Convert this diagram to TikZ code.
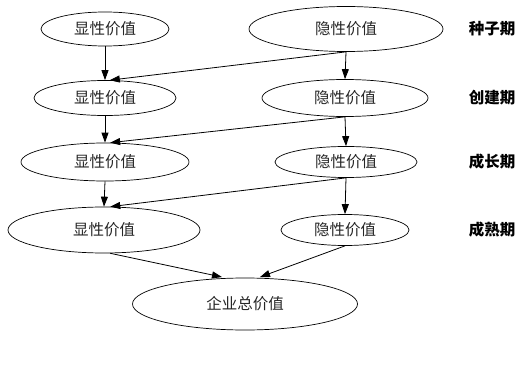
\documentclass[tikz,border=0pt]{standalone}
\usepackage{fontspec}
\usetikzlibrary{shapes.geometric,arrows.meta}
\newfontfamily\cjk{Noto Sans CJK SC}
\begin{document}
\begin{tikzpicture}[x=1pt,y=-1pt,
  val/.style={draw, line width=0.7pt, ellipse, inner sep=0pt, font=\cjk\fontsize{15.5}{18}\selectfont, text=black!85},
  stage/.style={font=\cjk\bfseries\fontsize{15.5}{18}\selectfont},
  arr/.style={line width=0.8pt, -{Triangle[length=10pt,width=7pt]}}]
\useasboundingbox[fill=white] (0,0) rectangle (527,382);
% row 1
\node[val, minimum width=128pt, minimum height=34pt] (l1) at (105,29) {显性价值};
\node[val, minimum width=194pt, minimum height=45pt] (r1) at (346,29) {隐性价值};
\node[stage] (s1) at (492,29) {种子期};
% row 2
\node[val, minimum width=142pt, minimum height=35pt] (l2) at (105,98) {显性价值};
\node[val, minimum width=166pt, minimum height=37pt] (r2) at (345,98) {隐性价值};
\node[stage] (s2) at (492,98) {创建期};
% row 3
\node[val, minimum width=168pt, minimum height=38pt] (l3) at (105,162) {显性价值};
\node[val, minimum width=142pt, minimum height=31pt] (r3) at (346,162) {隐性价值};
\node[stage] (s3) at (492,162) {成长期};
% row 4
\node[val, minimum width=192pt, minimum height=46pt] (l4) at (104,230) {显性价值};
\node[val, minimum width=128pt, minimum height=31pt] (r4) at (345,230) {隐性价值};
\node[stage] (s4) at (492,230) {成熟期};
% bottom
\node[val, minimum width=225pt, minimum height=52pt] (t) at (245,304) {企业总价值};
% arrows
\draw[arr] (l1.south) -- (l2.north);
\draw[arr] (r1.south) -- (r2.north);
\draw[arr] (r1.south) -- (l2.75);
\draw[arr] (l2.south) -- (l3.north);
\draw[arr] (r2.south) -- (r3.north);
\draw[arr] (r2.south) -- (l3.75);
\draw[arr] (l3.south) -- (l4.north);
\draw[arr] (r3.south) -- (r4.north);
\draw[arr] (r3.south) -- (l4.75);
\draw[arr] (l4.-75) -- ([xshift=-23pt,yshift=0.6pt]t.north);
\draw[arr] (r4.south) -- ([xshift=15pt,yshift=0.6pt]t.north);
\end{tikzpicture}
\end{document}
